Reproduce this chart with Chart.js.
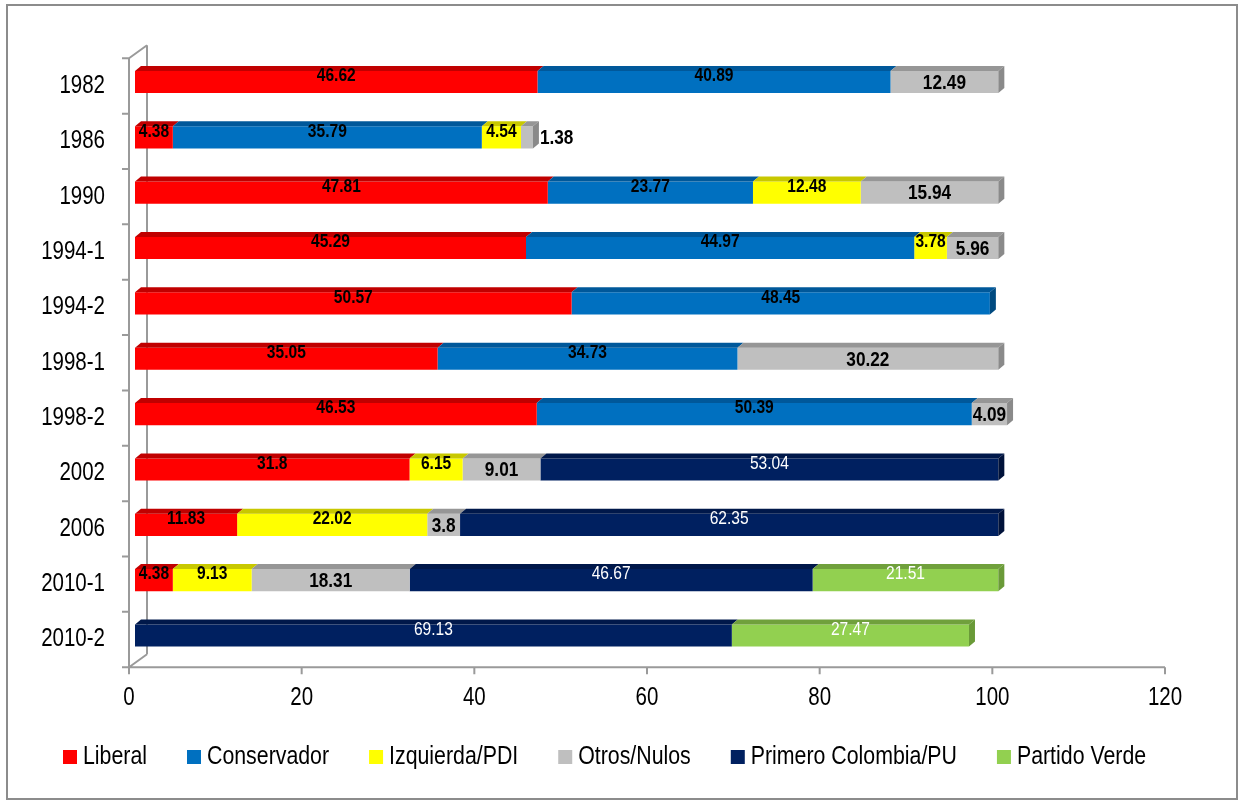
<!DOCTYPE html>
<html>
<head>
<meta charset="utf-8">
<title>Votación presidencial por partido</title>
<script src="https://cdn.jsdelivr.net/npm/chart.js@4.4.1/dist/chart.umd.min.js"></script>
<style>
  html, body { margin: 0; padding: 0; background: #fff; }
  #wrap { position: relative; width: 1241px; height: 802px; }
</style>
</head>
<body>
<div id="wrap"><canvas id="votosChart"></canvas></div>
<script>
// elecciones y porcentaje de votos por partido
const years = ['1982', '1986', '1990', '1994-1', '1994-2', '1998-1', '1998-2', '2002', '2006', '2010-1', '2010-2'];
const liberal     = [46.62, 4.38, 47.81, 45.29, 50.57, 35.05, 46.53, 31.8, 11.83, 4.38, null];
const conservador = [40.89, 35.79, 23.77, 44.97, 48.45, 34.73, 50.39, null, null, null, null];
const izquierda   = [null, 4.54, 12.48, 3.78, null, null, null, 6.15, 22.02, 9.13, null];
const otros       = [12.49, 1.38, 15.94, 5.96, null, 30.22, 4.09, 9.01, 3.8, 18.31, null];
const primero     = [null, null, null, null, null, null, null, 53.04, 62.35, 46.67, 69.13];
const verde       = [null, null, null, null, null, null, null, null, null, 21.51, 27.47];
const xTicks = [0, 20, 40, 60, 80, 100, 120];

const FONT = '"Liberation Sans", Arial, sans-serif';
const SQUEEZE = 0.82;          // simula Arial Narrow
const DX = 6, DY = 5;          // profundidad de las barras
const FX = -6, FY = 4;         // plano frontal de los ejes
const WX = 18, WY = -13;       // pared del fondo

function texto(ctx, str, x, y, font, color, align) {
    ctx.save();
    ctx.font = font;
    ctx.fillStyle = color;
    ctx.textBaseline = 'middle';
    ctx.textAlign = align || 'center';
    ctx.translate(x, y);
    ctx.scale(SQUEEZE, 1);
    ctx.fillText(str, 0, 0);
    ctx.restore();
}

function ancho(ctx, str, font) {
    ctx.save();
    ctx.font = font;
    const w = ctx.measureText(str).width * SQUEEZE;
    ctx.restore();
    return w;
}

// marco, pared 3D y ejes
const ejes3d = {
    id: 'ejes3d',
    beforeDatasetsDraw(chart) {
        const ctx = chart.ctx;
        const xs = chart.scales.x, ys = chart.scales.y;
        const left = xs.getPixelForValue(0) + FX;
        const right = xs.getPixelForValue(120) + FX;
        const band = ys.getPixelForValue(1) - ys.getPixelForValue(0);
        const top = ys.getPixelForValue(0) - band / 2 + FY;
        const bottom = ys.getPixelForValue(years.length - 1) + band / 2 + FY;

        ctx.save();
        ctx.strokeStyle = '#8c8c8c';
        ctx.lineWidth = 2;
        ctx.strokeRect(7, 5, 1230, 794);

        ctx.strokeStyle = '#9a9a9a';
        ctx.beginPath();
        // pared del fondo
        ctx.moveTo(left + WX, top + WY);
        ctx.lineTo(left + WX, bottom + WY);
        ctx.moveTo(left, top);
        ctx.lineTo(left + WX, top + WY);
        ctx.moveTo(left, bottom);
        ctx.lineTo(left + WX, bottom + WY);
        // eje vertical frontal
        ctx.moveTo(left, top);
        ctx.lineTo(left, bottom);
        // eje horizontal
        ctx.moveTo(left, bottom);
        ctx.lineTo(right, bottom);
        for (let i = 0; i <= years.length; i++) {
            const y = top + band * i;
            ctx.moveTo(left - 7, y);
            ctx.lineTo(left, y);
        }
        xTicks.forEach(v => {
            const x = xs.getPixelForValue(v) + FX;
            ctx.moveTo(x, bottom);
            ctx.lineTo(x, bottom + 7);
        });
        ctx.stroke();
        ctx.restore();

        const fontEje = '25px ' + FONT;
        years.forEach((yr, i) => {
            texto(ctx, yr, 105, ys.getPixelForValue(i) + FY, fontEje, '#000', 'right');
        });
        xTicks.forEach(v => {
            texto(ctx, String(v), xs.getPixelForValue(v) + FX, bottom + 31, fontEje, '#000', 'center');
        });
    }
};

// caras superiores y laterales, etiquetas y leyenda
const barras3d = {
    id: 'barras3d',
    afterDatasetsDraw(chart) {
        const ctx = chart.ctx;
        const datasets = chart.data.datasets;
        const ultimo = years.map(() => -1);
        datasets.forEach((ds, d) => ds.data.forEach((v, i) => { if (v != null) ultimo[i] = d; }));

        datasets.forEach((ds, d) => {
            const meta = chart.getDatasetMeta(d);
            meta.data.forEach((bar, i) => {
                if (ds.data[i] == null) return;
                const x0 = bar.base, x1 = bar.x;
                const t = bar.y - bar.height / 2, b = bar.y + bar.height / 2;
                ctx.save();
                ctx.fillStyle = ds.topColor;
                ctx.beginPath();
                ctx.moveTo(x0, t);
                ctx.lineTo(x0 + DX, t - DY);
                ctx.lineTo(x1 + DX, t - DY);
                ctx.lineTo(x1, t);
                ctx.closePath();
                ctx.fill();
                if (ultimo[i] === d) {
                    ctx.fillStyle = ds.sideColor;
                    ctx.beginPath();
                    ctx.moveTo(x1, t);
                    ctx.lineTo(x1 + DX, t - DY);
                    ctx.lineTo(x1 + DX, b - DY);
                    ctx.lineTo(x1, b);
                    ctx.closePath();
                    ctx.fill();
                }
                ctx.restore();
            });
        });

        // etiquetas de valor
        datasets.forEach((ds, d) => {
            const meta = chart.getDatasetMeta(d);
            meta.data.forEach((bar, i) => {
                const v = ds.data[i];
                if (v == null) return;
                const str = String(v);
                const font = (ds.labelBold ? 'bold ' : '') + ds.labelSize + 'px ' + FONT;
                const w = ancho(ctx, str, font);
                const seg = bar.x - bar.base;
                if (w > seg + 4) {
                    texto(ctx, str, bar.x + DX + 1, bar.y + 1, font, '#000', 'left');
                } else {
                    texto(ctx, str, (bar.base + bar.x) / 2, bar.y + ds.labelShift, font, ds.labelColor, 'center');
                }
            });
        });

        // leyenda
        const fontLey = '26px ' + FONT;
        let x = 63;
        const y = 757;
        datasets.forEach(ds => {
            ctx.fillStyle = ds.backgroundColor;
            ctx.fillRect(x, y - 7, 14, 14);
            texto(ctx, ds.label, x + 20, y, fontLey, '#000', 'left');
            x += 20 + ancho(ctx, ds.label, fontLey) + 40;
        });
    }
};

function serie(label, data, color, top, side, labelColor, bold, size, shift) {
    return {
        label: label,
        data: data,
        backgroundColor: color,
        topColor: top,
        sideColor: side,
        labelColor: labelColor,
        labelBold: bold,
        labelSize: size,
        labelShift: shift,
        borderWidth: 0,
        barPercentage: 0.4,
        categoryPercentage: 1
    };
}

const ctx = document.getElementById('votosChart').getContext('2d');
const chart = new Chart(ctx, {
    type: 'bar',
    data: {
        labels: years,
        datasets: [
            serie('Liberal', liberal, '#ff0000', '#c00000', '#a00000', '#000', true, 19, -6),
            serie('Conservador', conservador, '#0070c0', '#00589a', '#004a80', '#000', true, 19, -6),
            serie('Izquierda/PDI', izquierda, '#ffff00', '#c8c800', '#b0b000', '#000', true, 19, -6),
            serie('Otros/Nulos', otros, '#bfbfbf', '#969696', '#8a8a8a', '#000', true, 21, 1),
            serie('Primero Colombia/PU', primero, '#002060', '#00184a', '#00123a', '#fff', false, 19, -6),
            serie('Partido Verde', verde, '#92d050', '#70a03c', '#6a9a38', '#fff', false, 19, -6)
        ]
    },
    options: {
        indexAxis: 'y',
        responsive: true,
        maintainAspectRatio: false,
        animation: false,
        layout: {
            padding: { left: 135, right: 70, top: 54.3, bottom: 138.8 }
        },
        plugins: {
            legend: { display: false },
            tooltip: { enabled: false }
        },
        scales: {
            x: { stacked: true, min: 0, max: 120, display: false },
            y: { stacked: true, display: false }
        }
    },
    plugins: [ejes3d, barras3d]
});
</script>
</body>
</html>
